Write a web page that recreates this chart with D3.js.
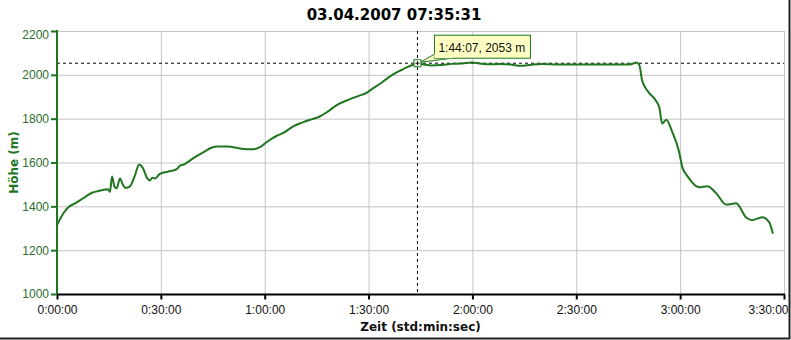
<!DOCTYPE html>
<html>
<head>
<meta charset="utf-8">
<script src="https://cdn.jsdelivr.net/npm/d3@7"></script>
<style>
  body { margin: 0; background: #fff; }
  svg { display: block; }
  .tick text { font-family: "Liberation Sans", Arial, sans-serif; font-size: 12px; }
</style>
</head>
<body>
<svg width="791" height="340"></svg>
<script>
// elapsed time in minutes and altitude in metres
const minutes = [0, 1, 2, 3.2, 5, 6.6, 8.5, 10.1, 12, 14.7, 15.3, 15.9, 16.6, 17.2, 18.2, 19, 19.8, 21, 22.5,
    23.7, 24.8, 26, 26.8, 27.5, 28.3, 29.7, 32, 34.6, 35.5, 36.9, 38.5, 40.4, 42.5, 44.1, 46.2, 49.3, 52.8,
    56.3, 58.6, 60.9, 63.5, 65.5, 68.1, 71, 73.5, 75.9, 78, 80.8, 84.5, 87, 89.4, 91, 93.2, 95.5, 97.5, 99.5,
    101, 103, 104.1, 105.5, 108, 111, 114, 117, 120, 122, 125, 128, 131, 134, 137, 140, 145, 150, 155, 160,
    165, 166.5, 167.3, 168.2, 169, 170, 171, 173, 174, 174.8, 175.3, 176, 177.7, 179.7, 180.6, 182, 183.2,
    184.5, 185.5, 187.8, 190.4, 193.3, 196.2, 199, 200.8, 202.5, 203.7, 205.7, 206.8];
const altitude = [1315, 1345, 1372, 1395, 1412, 1427, 1447, 1462, 1470, 1478, 1466, 1536, 1490, 1482, 1527, 1500,
    1484, 1490, 1540, 1591, 1575, 1530, 1518, 1530, 1527, 1548, 1558, 1570, 1585, 1593, 1610, 1630, 1648, 1664,
    1673, 1673, 1664, 1660, 1670, 1697, 1722, 1736, 1764, 1783, 1797, 1810, 1830, 1862, 1888, 1903, 1918, 1935,
    1958, 1985, 2005, 2022, 2034, 2047, 2053, 2048, 2043, 2045, 2050, 2052, 2056, 2052, 2048, 2049, 2047, 2041,
    2046, 2049, 2047, 2047, 2047, 2047, 2047, 2052, 2056, 2045, 1975, 1940, 1918, 1882, 1850, 1778, 1785, 1795,
    1740, 1648, 1580, 1540, 1515, 1493, 1487, 1492, 1460, 1408, 1414, 1350, 1337, 1345, 1350, 1328, 1275];

const xTicks = [0, 30, 60, 90, 120, 150, 180, 210];
const yTicks = [1000, 1200, 1400, 1600, 1800, 2000, 2200];

const titleText = "03.04.2007 07:35:31";
const xLabel = "Zeit (std:min:sec)";
const yLabel = "Höhe (m)";

// cursor position shown in the picture
const cursorMin = 104 + 7 / 60;
const cursorAlt = 2053;

const svg = d3.select('svg');
const W = +svg.attr('width'), H = +svg.attr('height');
const margin = { top: 31, left: 57, right: 7, bottom: 46 };
const green = '#1f761f';
const textGreen = '#2a6e2a';

const x = d3.scaleLinear().domain([0, 210]).range([margin.left, W - margin.right]);
const y = d3.scaleLinear().domain([1000, 2200]).range([H - margin.bottom, margin.top]);

function hms(m) {
    const s = Math.round(m * 60);
    const h = Math.floor(s / 3600), mm = Math.floor(s / 60) % 60, ss = s % 60;
    return h + ':' + String(mm).padStart(2, '0') + ':' + String(ss).padStart(2, '0');
}

// frame (right and bottom shadow)
svg.append('path')
    .attr('d', `M${W - 1.5},0 V${H - 1.5} H0`)
    .attr('fill', 'none').attr('stroke', '#222').attr('stroke-width', 2);

// grid
svg.append('g')
    .attr('transform', `translate(0,${y.range()[0]})`)
    .call(d3.axisBottom(x).tickValues(xTicks).tickSize(-(y.range()[0] - y.range()[1])).tickFormat(''))
    .call(g => g.select('.domain').remove())
    .call(g => g.selectAll('.tick line').attr('stroke', '#c4c4c4'));
svg.append('g')
    .attr('transform', `translate(${x.range()[0]},0)`)
    .call(d3.axisLeft(y).tickValues(yTicks).tickSize(-(x.range()[1] - x.range()[0])).tickFormat(''))
    .call(g => g.select('.domain').remove())
    .call(g => g.selectAll('.tick line').attr('stroke', '#c4c4c4'));

// crosshair
const cx = x(cursorMin), cy = y(cursorAlt);
svg.append('line')
    .attr('x1', cx).attr('x2', cx).attr('y1', y.range()[1]).attr('y2', y.range()[0])
    .attr('stroke', '#000').attr('stroke-dasharray', '3,3');
svg.append('line')
    .attr('x1', x.range()[0]).attr('x2', x.range()[1]).attr('y1', cy).attr('y2', cy)
    .attr('stroke', '#000').attr('stroke-dasharray', '3,3');

// altitude line
const line = d3.line()
    .curve(d3.curveMonotoneX)
    .x((d, i) => x(minutes[i]))
    .y(d => y(d));
svg.append('path')
    .datum(altitude)
    .attr('d', line)
    .attr('fill', 'none')
    .attr('stroke', green)
    .attr('stroke-width', 2)
    .attr('stroke-linejoin', 'round');

// x axis
const xAxis = svg.append('g')
    .attr('transform', `translate(0,${y.range()[0] + 0.5})`)
    .call(d3.axisBottom(x).tickValues(xTicks).tickSize(5).tickPadding(4).tickFormat(hms));
xAxis.select('.domain').attr('stroke', '#000').attr('stroke-width', 2).attr('d', `M${x.range()[0]},0H${x.range()[1] + 1}`);
xAxis.selectAll('.tick line').attr('stroke', '#000').attr('stroke-width', 2);
xAxis.selectAll('.tick text').attr('fill', '#111').attr('dy', '0.85em');
xAxis.selectAll('.tick').filter(d => d === 210).select('text')
    .attr('text-anchor', 'end').attr('x', 4);

// y axis
const yAxis = svg.append('g')
    .attr('transform', `translate(${x.range()[0]},0)`)
    .call(d3.axisLeft(y).tickValues(yTicks).tickSize(6).tickPadding(2).tickFormat(d3.format('d')));
yAxis.select('.domain').attr('stroke', green).attr('stroke-width', 2).attr('d', `M0,${y.range()[1] - 1}V${y.range()[0]}`);
yAxis.selectAll('.tick line').attr('stroke', green).attr('stroke-width', 2);
yAxis.selectAll('.tick text').attr('fill', textGreen);
yAxis.selectAll('.tick').filter(d => d === 2200).select('text').attr('dy', '0.6em');

// axis titles
svg.append('text')
    .attr('x', (x.range()[0] + x.range()[1]) / 2).attr('y', 331)
    .attr('text-anchor', 'middle')
    .style('font-family', '"DejaVu Sans", Verdana, sans-serif')
    .style('font-size', '12px').style('font-weight', 'bold')
    .attr('fill', '#111')
    .text(xLabel);
svg.append('text')
    .attr('transform', `translate(18,${(y.range()[0] + y.range()[1]) / 2}) rotate(-90)`)
    .attr('text-anchor', 'middle')
    .style('font-family', '"DejaVu Sans", Verdana, sans-serif')
    .style('font-size', '12px').style('font-weight', 'bold')
    .attr('fill', green)
    .text(yLabel);

// title
svg.append('text')
    .attr('x', 394).attr('y', 20)
    .attr('text-anchor', 'middle')
    .style('font-family', '"DejaVu Sans", Verdana, sans-serif')
    .style('font-size', '15px').style('font-weight', 'bold')
    .attr('fill', '#000')
    .text(titleText);

// tooltip
const tip = svg.append('g');
const bx = cx + 17, by = cy - 28, bw = 96, bh = 23;
tip.append('path')
    .attr('d', `M${cx + 3},${cy - 1} L${bx},${by + bh - 4} L${bx},${by + bh} L${bx + 18},${by + bh} Z`)
    .attr('fill', '#ffffc4').attr('stroke', green).attr('stroke-width', 1);
tip.append('rect')
    .attr('x', bx).attr('y', by).attr('width', bw).attr('height', bh)
    .attr('fill', '#ffffc4').attr('stroke', green).attr('stroke-width', 1);
tip.append('path')
    .attr('d', `M${bx + 0.5},${by + bh - 4.5} V${by + bh - 0.5} H${bx + 18}`)
    .attr('stroke', '#ffffc4').attr('stroke-width', 1.2).attr('fill', 'none');
tip.append('text')
    .attr('x', bx + 4).attr('y', by + 16.5)
    .style('font-family', '"Liberation Sans", Arial, sans-serif')
    .style('font-size', '12px')
    .attr('fill', '#111')
    .text(hms(cursorMin) + ', ' + cursorAlt + ' m');

// marker
const mk = svg.append('g').attr('transform', `translate(${cx},${cy})`);
mk.append('rect').attr('x', -3.5).attr('y', -3.5).attr('width', 7).attr('height', 7)
    .attr('fill', '#fff').attr('stroke', green);
mk.append('path').attr('d', 'M-2,0H2M0,-2V2').attr('stroke', '#000');
</script>
</body>
</html>
